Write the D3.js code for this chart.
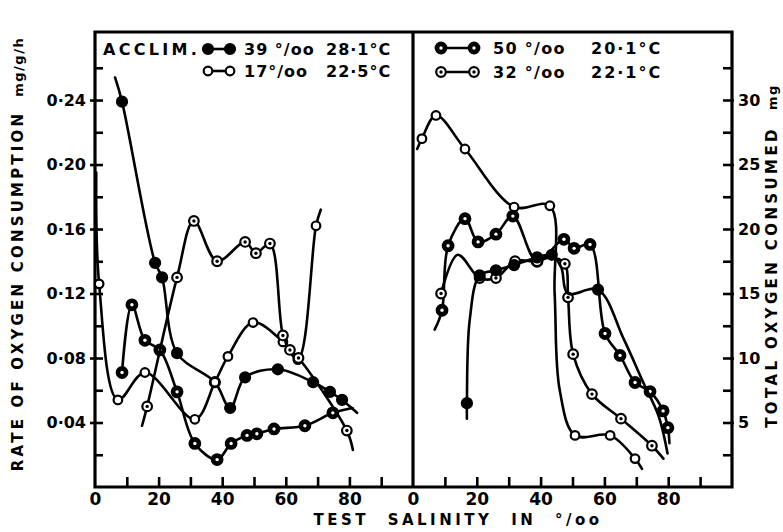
<!DOCTYPE html>
<html><head><meta charset="utf-8">
<script src="https://cdn.jsdelivr.net/npm/d3@7"></script>
<style>body{margin:0;background:#fff}svg{display:block}text{font-family:"DejaVu Sans",sans-serif;font-weight:bold;fill:#000}</style>
</head><body><svg id="c" width="783" height="532"></svg>
<script>
// ---------- data (x = test salinity ‰, y = value; third entry 0 = curve point without symbol) ----------
const xTickValues = [10,20,30,40,50,60,70,80,90];
const xLabelValues = [0,20,40,60,80];
const rateTickValues = [0.02,0.04,0.06,0.08,0.10,0.12,0.14,0.16,0.18,0.20,0.22,0.24,0.26];
const rateLabelValues = [0.04,0.08,0.12,0.16,0.20,0.24];
const rateLabels = ["0·04","0·08","0·12","0·16","0·20","0·24"];
const totalTickValues = [2.5,5,7.5,10,12.5,15,17.5,20,22.5,25,27.5,30,32.5];
const totalLabelValues = [5,10,15,20,25,30];
const totalLabels = ["5","10","15","20","25","30"];

// left panel: rate of oxygen consumption (mg/g/h)
const rate39 = [[6.3,0.254,0],[8.5,0.239],[18.9,0.139],[21.1,0.130],[25.8,0.083],[37.7,0.065],[42.5,0.049],[47.2,0.068],[57.5,0.073],[68.6,0.065],[73.9,0.059],[77.7,0.054],[82.4,0.046,0]];
const rate17 = [[0.4,0.195,0],[1.3,0.126],[7.2,0.054],[15.7,0.071],[31.4,0.042],[37.7,0.065],[41.8,0.081],[49.7,0.102],[59.1,0.090],[63.8,0.079],[69.5,0.162],[71.0,0.172,0]];
const rate50 = [[8.5,0.071],[11.6,0.113],[15.7,0.091],[20.4,0.085],[25.8,0.059],[31.4,0.027],[38.4,0.017],[42.8,0.027],[47.8,0.032],[50.9,0.033],[56.3,0.036],[66.0,0.038],[74.8,0.046],[81.0,0.049,0]];
const rate32 = [[14.8,0.038,0],[16.4,0.050],[25.8,0.130],[31.1,0.165],[38.4,0.140],[47.2,0.152],[50.6,0.145],[55.0,0.151],[59.1,0.094],[61.3,0.085],[64.0,0.080],[79.2,0.035],[81.1,0.023,0]];

// right panel: total oxygen consumed (mg)
const total17 = [[1.3,26.2,0],[2.8,27.0],[7.2,28.8],[16.3,26.2],[31.7,21.7],[42.9,21.8],[44.4,15.0,0],[46.0,7.5,0],[50.8,4.0],[61.8,4.0],[69.6,2.2],[71.8,1.4,0]];
const total50 = [[6.8,12.2,0],[9.1,13.7],[11.0,18.7],[16.3,20.8],[20.4,19.0],[26.0,19.6],[31.3,21.0],[38.9,17.5],[47.3,19.2],[50.5,18.5],[55.5,18.8],[60.2,11.9],[64.9,10.2],[69.6,8.1],[74.3,7.4],[78.4,5.9],[79.9,4.6],[80.4,3.4,0]];
const total32 = [[8.8,15.0],[14.0,18.0,0],[20.9,16.2],[26.0,16.2],[32.0,17.5],[38.9,17.5],[43.0,17.8,0],[47.6,17.3],[48.6,14.7],[50.2,10.3],[56.1,7.2],[65.2,5.3],[74.9,3.2],[78.5,2.2,0]];
const total39 = [[16.9,5.3,0],[16.9,6.5],[17.8,13.0,0],[20.9,16.4],[26.0,16.8],[31.7,17.2],[38.9,17.8],[43.5,18.0],[46.5,17.0,0],[48.5,15.0,0],[58.0,15.3],[66.0,11.5,0],[72.0,8.2,0],[77.0,5.5,0],[79.8,2.6,0]];

const legendLeft = [["39 °/oo","28·1°C","s39"],["17°/oo","22·5°C","s17"]];
const legendRight = [["50 °/oo","20·1°C","s50"],["32 °/oo","22·1°C","s32"]];

// ---------- drawing ----------
const svg = d3.select("#c");
const yTop = 32, yBot = 487, x0 = 95, xm = 413, x1 = 732;
const xL = d3.scaleLinear().domain([0,100]).range([x0,xm]);
const xR = d3.scaleLinear().domain([0,100]).range([xm,x1]);
const yRate = d3.scaleLinear().domain([0,0.2822]).range([yBot,yTop]);
const yTot = d3.scaleLinear().domain([0,35.27]).range([yBot,yTop]);

// frame
svg.append("path").attr("d",`M${x0},${yBot}V${yTop}H${x1}V${yBot}H${x0}M${xm},${yTop}V${yBot}`)
  .attr("stroke","#000").attr("stroke-width",3.2).attr("fill","none").attr("stroke-linecap","square");

// y axes
svg.append("g").attr("transform",`translate(${x0},0)`)
  .call(d3.axisLeft(yRate).tickValues(rateTickValues).tickSize(-8).tickSizeOuter(0).tickFormat(""));
svg.append("g").attr("transform",`translate(${x0},0)`)
  .call(d3.axisLeft(yRate).tickValues(rateLabelValues).tickSize(5).tickSizeOuter(0).tickPadding(4).tickFormat((d,i)=>rateLabels[i]));
svg.append("g").attr("transform",`translate(${x1},0)`)
  .call(d3.axisRight(yTot).tickValues(totalTickValues).tickSize(-9).tickSizeOuter(0).tickFormat(""));
svg.append("g").attr("transform",`translate(${x1},0)`)
  .call(d3.axisRight(yTot).tickValues(totalLabelValues).tickSize(2).tickSizeOuter(0).tickPadding(4).tickFormat((d,i)=>totalLabels[i]));
// x axes
[xL,xR].forEach(xs=>{
  svg.append("g").attr("transform",`translate(0,${yBot})`)
    .call(d3.axisBottom(xs).tickValues(xTickValues).tickSize(-10).tickSizeOuter(0).tickFormat(""));
  svg.append("g").attr("transform",`translate(0,${yBot})`)
    .call(d3.axisBottom(xs).tickValues(xLabelValues).tickSize(0).tickSizeOuter(0).tickPadding(6).tickFormat(d3.format("d")));
});
svg.selectAll(".domain").remove();
svg.selectAll(".tick line").attr("stroke","#000").attr("stroke-width",2.6);
svg.selectAll(".tick text").style("font-size","16px").style("font-family","DejaVu Sans").style("font-weight","bold").attr("fill","#000");
svg.selectAll(".tick text").filter(function(){return this.parentNode.parentNode.getAttribute("transform")===`translate(0,${yBot})`;}).style("font-size","17px");

// curves
const mk = {
  s39:{fill:"#000",r:5,dot:false},
  s17:{fill:"#fff",r:4.3,dot:false},
  s50:{fill:"#000",r:5.3,dot:"#fff"},
  s32:{fill:"#fff",r:4.8,dot:"#000"}
};
function drawSymbol(g,cx,cy,st){
  const m = mk[st];
  g.append("circle").attr("cx",cx).attr("cy",cy).attr("r",m.r).attr("fill",m.fill).attr("stroke","#000").attr("stroke-width",2.2);
  if(m.dot) g.append("circle").attr("cx",cx).attr("cy",cy).attr("r",1.7).attr("fill",m.dot);
}
function drawSeries(data,xs,ys,st){
  const g = svg.append("g");
  const line = d3.line().x(d=>xs(d[0])).y(d=>ys(d[1])).curve(d3.curveCatmullRom.alpha(0.5));
  g.append("path").attr("d",line(data)).attr("fill","none").attr("stroke","#000").attr("stroke-width",2.6).attr("stroke-linejoin","round").attr("stroke-linecap","round");
  data.filter(d=>d[2]!==0).forEach(d=>drawSymbol(g,xs(d[0]),ys(d[1]),st));
}
drawSeries(rate39,xL,yRate,"s39");
drawSeries(rate17,xL,yRate,"s17");
drawSeries(rate50,xL,yRate,"s50");
drawSeries(rate32,xL,yRate,"s32");
drawSeries(total17,xR,yTot,"s17");
drawSeries(total50,xR,yTot,"s50");
drawSeries(total32,xR,yTot,"s32");
drawSeries(total39,xR,yTot,"s39");

// legends
function legendSym(x,y,w,st){
  const g = svg.append("g");
  g.append("line").attr("x1",x).attr("x2",x+w).attr("y1",y).attr("y2",y).attr("stroke","#000").attr("stroke-width",2.6);
  drawSymbol(g,x,y,st); drawSymbol(g,x+w,y,st);
}
svg.append("text").attr("x",103).attr("y",55).style("font-size","16px").attr("letter-spacing","3.3").text("ACCLIM.");
legendLeft.forEach((r,i)=>{
  const y = 49 + i*22;
  legendSym(208,y,22,r[2]);
  svg.append("text").attr("x",244).attr("y",y+6).style("font-size","16px").attr("letter-spacing","1").text(r[0]);
  svg.append("text").attr("x",326).attr("y",y+6).style("font-size","16px").attr("letter-spacing","1").text(r[1]);
});
legendRight.forEach((r,i)=>{
  const y = 48 + i*24;
  legendSym(441,y,33,r[2]);
  svg.append("text").attr("x",493).attr("y",y+6).style("font-size","16px").attr("letter-spacing","1.3").text(r[0]);
  svg.append("text").attr("x",591).attr("y",y+6).style("font-size","16px").attr("letter-spacing","2").text(r[1]);
});

// axis titles
svg.append("text").attr("transform","translate(23,254) rotate(-90)").attr("text-anchor","middle")
  .style("font-size","15px").attr("letter-spacing","3.2")
  .text("RATE OF OXYGEN CONSUMPTION").append("tspan").attr("dx",14).style("font-size","13px").attr("letter-spacing","1.5").text("mg/g/h");
svg.append("text").attr("transform","translate(777,256) rotate(-90)").attr("text-anchor","middle")
  .style("font-size","15px").attr("letter-spacing","3.4")
  .text("TOTAL OXYGEN CONSUMED").append("tspan").attr("dx",16).style("font-size","13px").attr("letter-spacing","1.5").text("mg");
svg.append("text").attr("x",458).attr("y",525).attr("text-anchor","middle")
  .style("font-size","15px").attr("letter-spacing","3.5").attr("word-spacing","10")
  .text("TEST SALINITY IN °/oo");
</script></body></html>
